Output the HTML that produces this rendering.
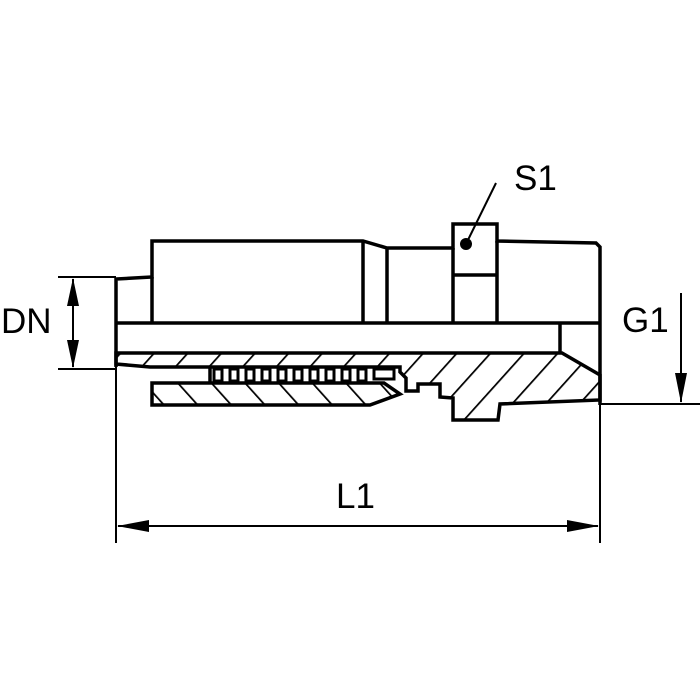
<!DOCTYPE html>
<html><head><style>html,body{margin:0;padding:0;background:#fff}svg{display:block}</style></head>
<body>
<svg width="700" height="700" viewBox="0 0 700 700" xmlns="http://www.w3.org/2000/svg">
<defs>
<pattern id="h1" width="25" height="25" patternUnits="userSpaceOnUse" patternTransform="rotate(42)">
<line x1="0" y1="0" x2="0" y2="25" stroke="#000" stroke-width="3.5"/></pattern>
<pattern id="h2" width="25" height="25" patternUnits="userSpaceOnUse" patternTransform="rotate(-42)">
<line x1="0" y1="0" x2="0" y2="25" stroke="#000" stroke-width="3.5"/></pattern>
</defs>
<g fill="none" stroke="#000" stroke-width="3.5" stroke-linejoin="miter">
<path d="M116,367 L116,279 L152,277 L152,241 L363,241 L387,248 L453,248 L453,224 L497,224 L497,241 L596,243 L600,247 L600,405"/>
<line x1="152" y1="277" x2="152" y2="323"/>
<line x1="363" y1="241" x2="363" y2="323"/>
<line x1="387" y1="248" x2="387" y2="323"/>
<line x1="453" y1="248" x2="453" y2="323"/>
<line x1="497" y1="241" x2="497" y2="323"/>
<line x1="453" y1="275" x2="497" y2="275"/>
<line x1="116" y1="323" x2="600" y2="323"/>
<line x1="560" y1="323" x2="560" y2="353"/>
<path fill="url(#h1)" d="M116,353 L562,353 L600,375 L600,400 L500,404 L498,420 L453,420 L453,398 L440,397 L440,384 L418,384 L418,391 L406,391 L406,378 L400,372 L400,367 L150,367 L116,364 Z"/>
<path fill="url(#h2)" d="M152,383 L384,383 L400,394 L370,405 L152,405 Z"/>
<line x1="210" y1="368" x2="210" y2="383"/>
</g>
<g fill="none" stroke="#000" stroke-width="3">
<rect x="214" y="369" width="8" height="12"/><rect x="230" y="369" width="8" height="12"/>
<rect x="246" y="369" width="8" height="12"/><rect x="262" y="369" width="8" height="12"/>
<rect x="278" y="369" width="8" height="12"/><rect x="294" y="369" width="8" height="12"/>
<rect x="310" y="369" width="8" height="12"/><rect x="326" y="369" width="8" height="12"/>
<rect x="342" y="369" width="8" height="12"/><rect x="358" y="369" width="8" height="12"/>
<rect x="374" y="369" width="20" height="10"/>
</g>
<g fill="#000"><circle cx="466" cy="244" r="6"/></g>
<g stroke="#000" stroke-width="2" fill="none">
<line x1="496" y1="183" x2="466" y2="244"/>
<line x1="58" y1="277" x2="116" y2="277"/>
<line x1="58" y1="369" x2="116" y2="369"/>
<line x1="73" y1="279" x2="73" y2="367"/>
<line x1="116" y1="367" x2="116" y2="543"/>
<line x1="600" y1="405" x2="600" y2="543"/>
<line x1="118" y1="526" x2="598" y2="526"/>
<line x1="600" y1="404" x2="700" y2="404"/>
<line x1="681" y1="293" x2="681" y2="402"/>
</g>
<g fill="#000">
<polygon points="73,278 67,306 79,306"/>
<polygon points="73,368 67,340 79,340"/>
<polygon points="117,526 149,520 149,532"/>
<polygon points="599,526 567,520 567,532"/>
<polygon points="681,403 675,373 687,373"/>
</g>
<g font-family="Liberation Sans, sans-serif" font-size="35" fill="#000">
<text x="1" y="333">DN</text>
<text x="514" y="190">S1</text>
<text x="622" y="332">G1</text>
<text x="336" y="508">L1</text>
</g>
</svg>
</body></html>
